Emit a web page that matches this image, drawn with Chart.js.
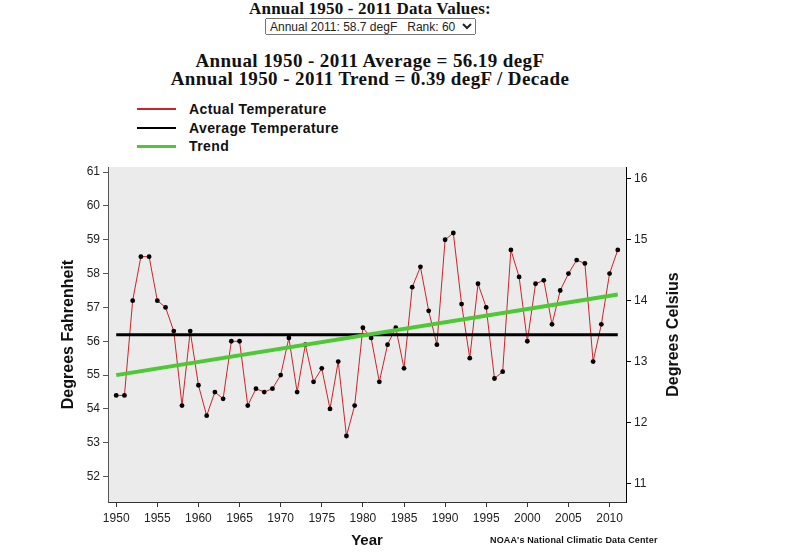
<!DOCTYPE html>
<html>
<head>
<meta charset="utf-8">
<title>Annual 1950 - 2011 Temperature</title>
<script src="https://cdn.jsdelivr.net/npm/chart.js@4.4.1/dist/chart.umd.min.js"></script>
<style>
    body { margin: 0; background: #fff; width: 800px; height: 552px; overflow: hidden; position: relative; }
    #chartCanvas { position: absolute; left: 0; top: 0; }
    .head { position: absolute; left: 0; width: 740px; text-align: center; font-family: "Liberation Serif", "DejaVu Serif", serif; font-weight: bold; color: #111; white-space: nowrap; }
    #t1 { top: 0; font-size: 17px; line-height: 18px; letter-spacing: 0.2px; }
    #t2 { top: 51px; font-size: 19px; line-height: 20px; letter-spacing: 0.4px; }
    #t3 { top: 69px; font-size: 19px; line-height: 20px; letter-spacing: 0.4px; }
    #yearSelect { position: absolute; left: 265px; top: 18px; width: 211px; height: 17px; font: 12px "Liberation Sans", Arial, sans-serif; padding: 0; color: #222; }
    #legend { position: absolute; left: 137px; top: 100px; font: bold 14px "Liberation Sans", Arial, sans-serif; letter-spacing: 0.4px; color: #111; }
    .legend-item { position: relative; height: 18.5px; line-height: 18.5px; }
    .legend-line { position: absolute; left: 0; width: 39px; top: 50%; }
    .legend-text { position: absolute; left: 52px; top: 0; white-space: nowrap; }
    #credit { position: absolute; left: 490px; top: 535px; font: bold 9px "Liberation Sans", Arial, sans-serif; letter-spacing: 0.15px; color: #111; white-space: nowrap; }
</style>
</head>
<body>
<div class="head" id="t1">Annual 1950 - 2011 Data Values:</div>
<select id="yearSelect"><option>Annual 2011: 58.7 degF&nbsp;&nbsp;&nbsp;Rank: 60</option></select>
<div class="head" id="t2">Annual 1950 - 2011 Average = 56.19 degF</div>
<div class="head" id="t3">Annual 1950 - 2011 Trend = 0.39 degF / Decade</div>
<div id="legend"></div>
<canvas id="chartCanvas" width="800" height="552"></canvas>
<div id="credit">NOAA's National Climatic Data Center</div>

<script>
// --- Data ---
const years = [
    1950, 1951, 1952, 1953, 1954, 1955, 1956, 1957, 1958, 1959,
    1960, 1961, 1962, 1963, 1964, 1965, 1966, 1967, 1968, 1969,
    1970, 1971, 1972, 1973, 1974, 1975, 1976, 1977, 1978, 1979,
    1980, 1981, 1982, 1983, 1984, 1985, 1986, 1987, 1988, 1989,
    1990, 1991, 1992, 1993, 1994, 1995, 1996, 1997, 1998, 1999,
    2000, 2001, 2002, 2003, 2004, 2005, 2006, 2007, 2008, 2009,
    2010, 2011
];
const actualTemps = [
    54.4, 54.4, 57.2, 58.5, 58.5, 57.2, 57.0, 56.3, 54.1, 56.3,
    54.7, 53.8, 54.5, 54.3, 56.0, 56.0, 54.1, 54.6, 54.5, 54.6,
    55.0, 56.1, 54.5, 55.9, 54.8, 55.2, 54.0, 55.4, 53.2, 54.1,
    56.4, 56.1, 54.8, 55.9, 56.4, 55.2, 57.6, 58.2, 56.9, 55.9,
    59.0, 59.2, 57.1, 55.5, 57.7, 57.0, 54.9, 55.1, 58.7, 57.9,
    56.0, 57.7, 57.8, 56.5, 57.5, 58.0, 58.4, 58.3, 55.4, 56.5,
    58.0, 58.7
];
const averageYears = [1950, 2011];
const averageTemps = [56.19, 56.19];
const trendYears = [1950, 2011];
const trendTemps = [55.0, 57.38];

const xTickYears = [1950, 1955, 1960, 1965, 1970, 1975, 1980, 1985, 1990, 1995, 2000, 2005, 2010];
const fahrenheitTicks = [52, 53, 54, 55, 56, 57, 58, 59, 60, 61];
const celsiusTicks = [11, 12, 13, 14, 15, 16];

// --- Axis ranges ---
const X_MIN = 1949, X_MAX = 2012;
const F_MIN = 51.25, F_MAX = 61.15;
const toC = f => (f - 32) * 5 / 9;

const tickFont = { family: '"Liberation Sans", Arial, sans-serif', size: 12 };
const titleFont = { family: '"Liberation Sans", Arial, sans-serif', size: 15, weight: 'bold' };
const sideTitleFont = { family: '"Liberation Sans", Arial, sans-serif', size: 16, weight: 'bold' };

function zip(xs, ys) {
    return xs.map((x, i) => ({ x: x, y: ys[i] }));
}

// gray plot background
const plotBackground = {
    id: 'plotBackground',
    beforeDraw(chart) {
        const { ctx, chartArea } = chart;
        ctx.save();
        ctx.fillStyle = '#ebebeb';
        ctx.fillRect(chartArea.left, chartArea.top, chartArea.right - chartArea.left, chartArea.bottom - chartArea.top);
        ctx.restore();
    }
};

// right axis title reads bottom-to-top like the left one
const rightTitle = {
    id: 'rightTitle',
    afterDraw(chart) {
        const { ctx, chartArea } = chart;
        ctx.save();
        ctx.translate(674, (chartArea.top + chartArea.bottom) / 2);
        ctx.rotate(-Math.PI / 2);
        ctx.font = 'bold 16px "Liberation Sans", Arial, sans-serif';
        ctx.fillStyle = '#111';
        ctx.textAlign = 'center';
        ctx.textBaseline = 'middle';
        ctx.fillText('Degrees Celsius', 0, 0);
        ctx.restore();
    }
};

const ctx = document.getElementById('chartCanvas').getContext('2d');
const chart = new Chart(ctx, {
    type: 'line',
    data: {
        datasets: [
            {
                label: 'Actual Temperature',
                data: zip(years, actualTemps),
                borderColor: '#c8262a',
                borderWidth: 1,
                pointRadius: 2.4,
                pointBackgroundColor: '#000',
                pointBorderWidth: 0,
                tension: 0,
                order: 3
            },
            {
                label: 'Average Temperature',
                data: zip(averageYears, averageTemps),
                borderColor: '#000',
                borderWidth: 3,
                pointRadius: 0,
                order: 2
            },
            {
                label: 'Trend',
                data: zip(trendYears, trendTemps),
                borderColor: '#4ec834',
                borderWidth: 4,
                pointRadius: 0,
                order: 1
            }
        ]
    },
    options: {
        responsive: false,
        animation: false,
        devicePixelRatio: 1,
        layout: { padding: { top: 167, left: 0, right: 0, bottom: 0 } },
        plugins: {
            legend: { display: false },
            tooltip: { enabled: false }
        },
        scales: {
            x: {
                type: 'linear',
                min: X_MIN,
                max: X_MAX,
                afterFit: scale => { scale.height = 50; },
                afterBuildTicks: scale => { scale.ticks = xTickYears.map(v => ({ value: v })); },
                ticks: { font: tickFont, color: '#222', padding: 4, maxRotation: 0, callback: v => String(v) },
                grid: { drawOnChartArea: false, drawTicks: true, tickLength: 5, tickColor: '#333' },
                border: { display: true, color: '#333', width: 1 },
                title: { display: true, text: 'Year', font: titleFont, color: '#111', padding: { top: 0, bottom: 2 } }
            },
            y: {
                position: 'left',
                min: F_MIN,
                max: F_MAX,
                afterFit: scale => { scale.width = 108; },
                afterBuildTicks: scale => { scale.ticks = fahrenheitTicks.map(v => ({ value: v })); },
                ticks: { font: tickFont, color: '#222', padding: 3 },
                grid: { drawOnChartArea: false, drawTicks: true, tickLength: 5, tickColor: '#555' },
                border: { display: true, color: '#555', width: 1 },
                title: { display: true, text: 'Degrees Fahrenheit', font: sideTitleFont, color: '#111', padding: { top: 59, bottom: 0 } }
            },
            yC: {
                position: 'right',
                min: toC(F_MIN),
                max: toC(F_MAX),
                afterFit: scale => { scale.width = 174; },
                afterBuildTicks: scale => { scale.ticks = celsiusTicks.map(v => ({ value: v })); },
                ticks: { font: tickFont, color: '#222', padding: 3 },
                grid: { drawOnChartArea: false, drawTicks: true, tickLength: 5, tickColor: '#000' },
                border: { display: true, color: '#000', width: 1 }
            }
        }
    },
    plugins: [plotBackground, rightTitle]
});

// --- HTML legend built from the datasets ---
const legendLineHeights = [2, 2, 3];
const legendEl = document.getElementById('legend');
chart.data.datasets.forEach((ds, i) => {
    const item = document.createElement('div');
    item.className = 'legend-item';
    const line = document.createElement('div');
    line.className = 'legend-line';
    line.style.height = legendLineHeights[i] + 'px';
    line.style.marginTop = (-legendLineHeights[i] / 2) + 'px';
    line.style.background = ds.borderColor;
    const text = document.createElement('div');
    text.className = 'legend-text';
    text.textContent = ds.label;
    item.appendChild(line);
    item.appendChild(text);
    legendEl.appendChild(item);
});
</script>
</body>
</html>
